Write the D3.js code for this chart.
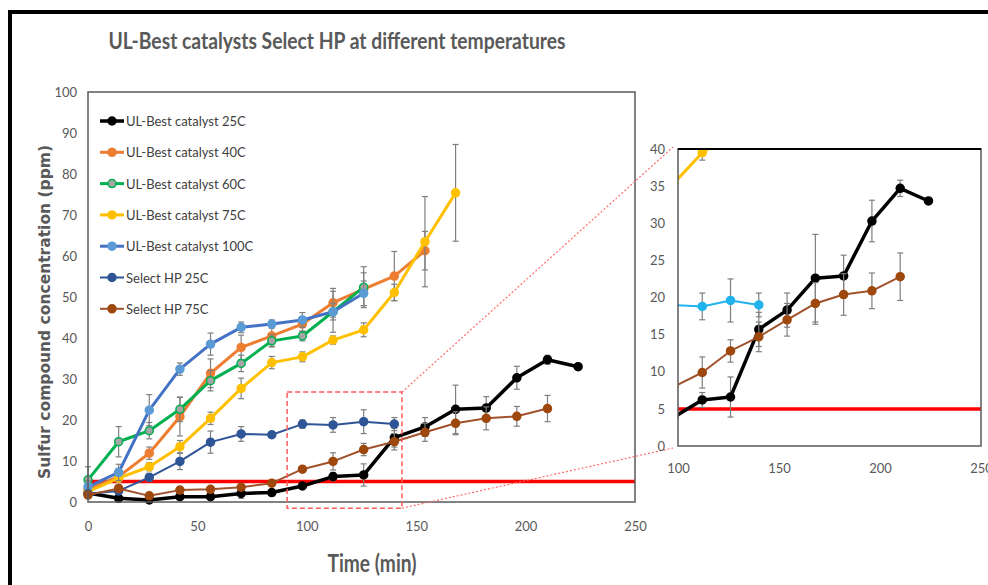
<!DOCTYPE html>
<html>
<head>
<meta charset="utf-8">
<script src="https://cdn.jsdelivr.net/npm/d3@7"></script>
<style>
  body { margin: 0; background: #fff; }
  text { font-family: Lato, "Open Sans", sans-serif; }
</style>
</head>
<body>
<div id="chart"></div>
<script>
// data
const time = [0, 14, 28, 42, 56, 70, 84, 98, 112, 126, 140, 154, 168, 182, 196, 210, 224];

const ul25 = [2.2, 0.9, 0.5, 1.3, 1.3, 2.1, 2.3, 3.9, 6.2, 6.6, 15.7, 18.3, 22.6, 22.9, 30.3, 34.7, 33.0];
const ul25Err = [0.5, 0.3, 0.3, 0.5, 0.5, 1.2, 0.6, 0.6, 1.0, 2.7, 2.3, 2.3, 5.9, 2.8, 2.8, 1.1, null];
const ul40 = [3.0, 6.2, 11.9, 20.8, 31.4, 37.7, 40.5, 43.4, 48.6, 51.9, 55.1, 61.3];
const ul40Err = [1.5, 2.0, 1.5, 4.7, 3.5, 3.0, 2.5, 1.8, 3.5, 4.0, 6.0, 4.7];
const ul60 = [5.4, 14.7, 17.4, 22.6, 29.6, 33.8, 39.3, 40.5, 46.4, 52.4];
const ul60Err = [3.2, 3.7, 2.0, 3.0, 2.5, 2.0, 1.5, 1.2, 5.0, 5.0];
const ul75 = [2.5, 5.8, 8.6, 13.5, 20.4, 27.7, 34.0, 35.4, 39.5, 42.0, 51.1, 63.5, 75.4];
const ul75Err = [0.5, 1.0, 1.0, 1.5, 1.5, 2.5, 1.5, 1.2, 1.0, 1.7, 2.0, 11.0, 11.8];
const ul100 = [3.7, 7.2, 22.4, 32.4, 38.5, 42.6, 43.4, 44.4, 46.4, 50.9];
const ul100Err = [1.5, 2.0, 3.8, 1.5, 2.7, 1.3, 1.0, 1.8, 2.0, 3.0];
const hp25 = [2.0, 2.7, 6.0, 9.9, 14.6, 16.6, 16.4, 19.0, 18.8, 19.6, 19.0];
const hp25Err = [0.5, 0.5, 1.0, 2.0, 2.7, 1.8, 0.6, 1.0, 1.8, 2.9, 1.6];
const hp75 = [1.7, 3.3, 1.5, 2.9, 3.1, 3.6, 4.6, 8.0, 9.9, 12.8, 14.7, 17.0, 19.2, 20.4, 20.9, 22.8];
const hp75Err = [0.5, 0.5, 0.7, 0.5, 0.5, 0.6, 0.5, 0.6, 2.1, 1.5, 2.0, 2.2, 2.8, 2.8, 2.4, 3.2];

const limit = 5;            // ppm target line
const zoomBox = [91, 143.5, -1.5, 26.8];  // x0, x1, y0, y1 in data units
const mainXTicks = [0, 50, 100, 150, 200, 250];
const mainYTicks = [0, 10, 20, 30, 40, 50, 60, 70, 80, 90, 100];
const insetXTicks = [100, 150, 200, 250];
const insetYTicks = [0, 5, 10, 15, 20, 25, 30, 35, 40];

const series = [
  { name: "UL-Best catalyst 25C", v: ul25, e: ul25Err, line: "#000000", fill: "#000000", stroke: "#000000", lw: 3.5 },
  { name: "UL-Best catalyst 40C", v: ul40, e: ul40Err, line: "#ED7D31", fill: "#ED7D31", stroke: "#ED7D31", lw: 3 },
  { name: "UL-Best catalyst 60C", v: ul60, e: ul60Err, line: "#00B050", fill: "#A5A5A5", stroke: "#00B050", lw: 3 },
  { name: "UL-Best catalyst 75C", v: ul75, e: ul75Err, line: "#FFC000", fill: "#FFC000", stroke: "#FFC000", lw: 3 },
  { name: "UL-Best catalyst 100C", v: ul100, e: ul100Err, line: "#4472C4", fill: "#5B9BD5", stroke: "#5B9BD5", lw: 3 },
  { name: "Select HP 25C", v: hp25, e: hp25Err, line: "#2F5597", fill: "#2F5597", stroke: "#2F5597", lw: 2, inset: "#21B3EC" },
  { name: "Select HP 75C", v: hp75, e: hp75Err, line: "#A0522D", fill: "#9E480E", stroke: "#9E480E", lw: 2 }
];

const w = 988, h = 585;
const svg = d3.select("#chart").append("svg").attr("width", w).attr("height", h);

// outer frame (only top + left show in the crop)
svg.append("line").attr("x1", 10).attr("x2", w).attr("y1", 12).attr("y2", 12).attr("stroke", "#000").attr("stroke-width", 4);
svg.append("line").attr("x1", 10).attr("x2", 10).attr("y1", 10).attr("y2", h).attr("stroke", "#000").attr("stroke-width", 4);

// title
svg.append("text").attr("x", 337).attr("y", 49).attr("text-anchor", "middle")
  .attr("font-size", 22).attr("font-weight", "bold").attr("fill", "#595959")
  .attr("textLength", 457).attr("lengthAdjust", "spacingAndGlyphs")
  .text("UL-Best catalysts Select HP at different temperatures");

// scales
const x = d3.scaleLinear().domain([0, 250]).range([88, 635]);
const y = d3.scaleLinear().domain([0, 100]).range([502, 92]);
const xi = d3.scaleLinear().domain([100, 250]).range([678, 981]);
const yi = d3.scaleLinear().domain([0, 40]).range([446, 149]);

function drawPanel(g, xs, ys, insetMode) {
  // threshold
  g.append("line").attr("x1", xs.range()[0]).attr("x2", xs.range()[1])
    .attr("y1", ys(limit)).attr("y2", ys(limit)).attr("stroke", "#FF0000").attr("stroke-width", 3.5);

  series.forEach(s => {
    const pts = s.v.map((d, i) => ({ t: time[i], v: d, e: s.e[i] }));
    const col = insetMode && s.inset ? s.inset : null;
    // error bars
    const eb = g.append("g").attr("stroke", "#7F7F7F").attr("stroke-width", 1.2);
    pts.filter(p => p.e != null).forEach(p => {
      eb.append("line").attr("x1", xs(p.t)).attr("x2", xs(p.t)).attr("y1", ys(p.v - p.e)).attr("y2", ys(p.v + p.e));
      [p.v - p.e, p.v + p.e].forEach(c => {
        eb.append("line").attr("x1", xs(p.t) - 3).attr("x2", xs(p.t) + 3).attr("y1", ys(c)).attr("y2", ys(c));
      });
    });
    const line = d3.line().x(p => xs(p.t)).y(p => ys(p.v));
    g.append("path").datum(pts).attr("fill", "none").attr("stroke", col || s.line)
      .attr("stroke-width", s.lw).attr("stroke-linejoin", "round").attr("d", line);
    g.selectAll(null).data(pts).enter().append("circle")
      .attr("cx", p => xs(p.t)).attr("cy", p => ys(p.v)).attr("r", 4)
      .attr("fill", col || s.fill).attr("stroke", col || s.stroke).attr("stroke-width", 1.5);
  });
}

function styleAxis(a, size) {
  a.select(".domain").remove();
  a.selectAll("text").attr("fill", "#595959").attr("font-size", size)
    .style("font-family", "Lato, 'Open Sans', sans-serif");
}

// main panel
const main = svg.append("g");
drawPanel(main, x, y, false);
main.append("rect").attr("x", 88).attr("y", 92).attr("width", 547).attr("height", 410)
  .attr("fill", "none").attr("stroke", "#595959").attr("stroke-width", 1.5);
styleAxis(svg.append("g").attr("transform", "translate(88,0)")
  .call(d3.axisLeft(y).tickValues(mainYTicks).tickSize(0).tickPadding(11)), 13);
styleAxis(svg.append("g").attr("transform", "translate(0,502)")
  .call(d3.axisBottom(x).tickValues(mainXTicks).tickSize(0).tickPadding(20)), 13);

// legend
const leg = svg.append("g");
series.forEach((s, i) => {
  const ly = 121 + i * 31.3;
  leg.append("line").attr("x1", 100).attr("x2", 124).attr("y1", ly).attr("y2", ly)
    .attr("stroke", s.line).attr("stroke-width", s.lw);
  leg.append("circle").attr("cx", 112).attr("cy", ly).attr("r", 4)
    .attr("fill", s.fill).attr("stroke", s.stroke).attr("stroke-width", 1.5);
  leg.append("text").attr("x", 126).attr("y", ly + 5).attr("font-size", 13).attr("fill", "#404040").text(s.name);
});

// axis titles
svg.append("text").attr("transform", "translate(50,312) rotate(-90)").attr("text-anchor", "middle")
  .attr("font-size", 15.5).attr("font-weight", "bold").attr("fill", "#595959")
  .style("font-family", "'DejaVu Sans', sans-serif")
  .text("Sulfur compound concentration (ppm)");
svg.append("text").attr("x", 372).attr("y", 572).attr("text-anchor", "middle")
  .attr("font-size", 25).attr("font-weight", "bold").attr("fill", "#595959")
  .attr("textLength", 89).attr("lengthAdjust", "spacingAndGlyphs")
  .text("Time (min)");

// zoom box + connectors
svg.append("rect").attr("x", x(zoomBox[0])).attr("y", y(zoomBox[3]))
  .attr("width", x(zoomBox[1]) - x(zoomBox[0])).attr("height", y(zoomBox[2]) - y(zoomBox[3]))
  .attr("fill", "none").attr("stroke", "#FF5B5B").attr("stroke-width", 1.5).attr("stroke-dasharray", "5,3");
svg.append("line").attr("x1", x(zoomBox[1])).attr("y1", y(zoomBox[3])).attr("x2", xi(100) - 5).attr("y2", yi(40) - 2)
  .attr("stroke", "#FF6B6B").attr("stroke-width", 1.2).attr("stroke-dasharray", "2,2");
svg.append("line").attr("x1", x(zoomBox[1])).attr("y1", y(zoomBox[2])).attr("x2", xi(100) - 5).attr("y2", yi(0) + 2)
  .attr("stroke", "#FF6B6B").attr("stroke-width", 1.2).attr("stroke-dasharray", "2,2");

// inset panel
svg.append("clipPath").attr("id", "insetClip").append("rect")
  .attr("x", 678).attr("y", 149).attr("width", 303).attr("height", 297);
const inset = svg.append("g").attr("clip-path", "url(#insetClip)");
drawPanel(inset, xi, yi, true);
svg.append("rect").attr("x", 678).attr("y", 149).attr("width", 303).attr("height", 297)
  .attr("fill", "none").attr("stroke", "#595959").attr("stroke-width", 1.5);
svg.append("line").attr("x1", 678).attr("x2", 981).attr("y1", 149).attr("y2", 149).attr("stroke", "#000").attr("stroke-width", 2);
styleAxis(svg.append("g").attr("transform", "translate(678,0)")
  .call(d3.axisLeft(yi).tickValues(insetYTicks).tickSize(0).tickPadding(13)), 13);
styleAxis(svg.append("g").attr("transform", "translate(0,446)")
  .call(d3.axisBottom(xi).tickValues(insetXTicks).tickSize(0).tickPadding(18)), 13);
</script>
</body>
</html>
